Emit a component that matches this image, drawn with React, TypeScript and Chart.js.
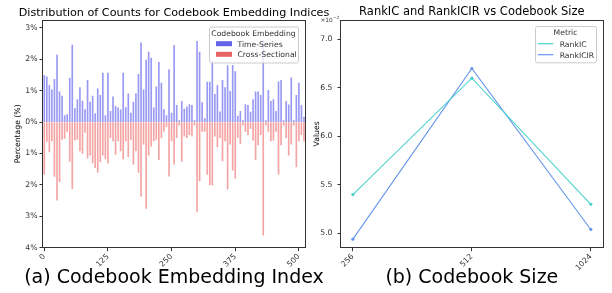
import React, { useEffect, useRef } from 'react';
import { Chart, registerables } from 'chart.js';
Chart.register(...registerables);

const FONT = '"DejaVu Sans", Verdana, sans-serif';

// ---- Chart (a): codebook usage distribution ----
const codeIndices = [
  0, 5, 10, 15, 20, 25, 30, 35, 40, 45, 50, 55, 60, 65, 70, 75, 80, 85, 90, 95,
  100, 105, 110, 115, 120, 125, 130, 135, 140, 145, 150, 155, 160, 165, 170, 175, 180, 185, 190, 195,
  200, 205, 210, 215, 220, 225, 230, 235, 240, 245, 250, 255, 260, 265, 270, 275, 280, 285, 290, 295,
  300, 305, 310, 315, 320, 325, 330, 335, 340, 345, 350, 355, 360, 365, 370, 375, 380, 385, 390, 395,
  400, 405, 410, 415, 420, 425, 430, 435, 440, 445, 450, 455, 460, 465, 470, 475, 480, 485, 490, 495,
  500, 505, 510,
];
const timeSeriesPct = [
  1.49, 1.44, 1.17, 1.03, 1.36, 2.13, 0.96, 0.83, 0.21, 0.24,
  1.40, 2.45, 0.43, 0.72, 1.10, 0.67, 0.40, 1.33, 0.64, 0.83,
  0.27, 1.06, 0.85, 1.56, 0.21, 1.56, 0.34, 0.80, 0.50, 0.45,
  0.39, 1.56, 0.46, 0.90, 0.29, 0.64, 0.90, 1.52, 2.52, 1.03,
  1.97, 2.23, 2.04, 0.45, 1.12, 1.90, 1.24, 0.40, 0.21, 1.67,
  0.29, 2.44, 0.53, 0.05, 0.66, 0.41, 0.48, 0.56, 0.53, 0.05,
  2.57, 2.23, 0.62, 0.11, 1.27, 1.27, 1.95, 0.88, 1.17, 0.33,
  1.33, 1.10, 1.80, 0.98, 1.81, 1.61, 0.19, 0.34, 0.05, 0.56,
  0.53, 0.32, 0.72, 0.96, 0.96, 0.85, 2.60, 0.05, 1.01, 0.66,
  0.72, 0.34, 1.28, 1.33, 0.05, 0.66, 0.55, 1.41, 0.05, 0.85,
  1.24, 0.53, 0.16,
];
const crossSectionalPct = [
  1.67, 0.62, 0.95, 0.60, 1.73, 2.49, 1.90, 0.55, 0.52, 0.30,
  1.25, 2.12, 0.58, 0.55, 0.92, 1.00, 0.33, 1.15, 1.05, 1.30,
  1.45, 1.60, 1.27, 1.05, 1.17, 1.30, 0.50, 0.60, 1.03, 0.60,
  0.92, 1.17, 0.60, 1.10, 0.55, 1.34, 0.92, 1.60, 2.36, 0.70,
  2.75, 1.05, 0.77, 0.60, 0.55, 1.20, 0.50, 0.30, 0.15, 1.72,
  0.60, 1.34, 0.50, 0.10, 1.25, 0.45, 0.50, 0.40, 0.45, 0.10,
  2.86, 1.87, 0.30, 0.30, 1.67, 2.00, 2.00, 0.45, 0.79, 0.50,
  1.24, 0.60, 2.14, 0.70, 1.53, 1.79, 0.50, 0.68, 0.10, 0.30,
  0.40, 0.20, 0.58, 1.20, 0.73, 0.40, 3.60, 0.10, 0.30, 0.60,
  0.58, 0.30, 1.66, 0.73, 0.10, 0.50, 1.05, 0.70, 0.10, 1.43,
  0.60, 0.40, 0.60,
];
const xTicksA = [0, 125, 250, 375, 500];
const yTicksA = [-4, -3, -2, -1, 0, 1, 2, 3];
const seriesNamesA = ['Time-Series', 'Cross-Sectional'];

// ---- Chart (b): RankIC / RankICIR ----
const codebookSizes = ['256', '512', '1024'];
const rankIC = [0.054, 0.066, 0.053];
const rankICIR = [0.0494, 0.067, 0.0504];
const yTicksB = [0.05, 0.055, 0.06, 0.065, 0.07];
const seriesNamesB = ['RankIC', 'RankICIR'];

const TS_BAR = 'rgba(90,90,235,0.62)';
const CS_BAR = 'rgba(235,90,90,0.55)';
const TS_PATCH = 'rgb(100,100,232)';
const CS_PATCH = 'rgb(232,100,100)';
const IC_COLOR = 'rgb(72,209,204)';
const ICIR_COLOR = 'rgb(100,149,237)';
const SMALL = 7.7;

function roundRect(ctx: CanvasRenderingContext2D, x: number, y: number, w: number, h: number, r: number) {
  ctx.beginPath();
  ctx.moveTo(x + r, y);
  ctx.lineTo(x + w - r, y);
  ctx.arcTo(x + w, y, x + w, y + r, r);
  ctx.lineTo(x + w, y + h - r);
  ctx.arcTo(x + w, y + h, x + w - r, y + h, r);
  ctx.lineTo(x + r, y + h);
  ctx.arcTo(x, y + h, x, y + h - r, r);
  ctx.lineTo(x, y + r);
  ctx.arcTo(x, y, x + r, y, r);
  ctx.closePath();
}

type LegendItem = { label: string; color: string; kind: 'patch' | 'line' };

function drawLegend(
  ctx: CanvasRenderingContext2D,
  box: { x: number; y: number; w: number; h: number },
  title: string,
  items: LegendItem[],
  markX: number,
  markW: number,
  textX: number,
  rowY: number[],
) {
  ctx.save();
  roundRect(ctx, box.x + 0.5, box.y + 0.5, box.w, box.h, 2);
  ctx.fillStyle = 'rgba(255,255,255,0.8)';
  ctx.fill();
  ctx.strokeStyle = '#cccccc';
  ctx.lineWidth = 1;
  ctx.stroke();
  ctx.font = `${SMALL}px ${FONT}`;
  ctx.fillStyle = '#333333';
  ctx.textAlign = 'center';
  ctx.textBaseline = 'alphabetic';
  ctx.fillText(title, box.x + box.w / 2, box.y + 9.2);
  ctx.textAlign = 'left';
  ctx.textBaseline = 'alphabetic';
  items.forEach((it, i) => {
    const cy = rowY[i];
    if (it.kind === 'patch') {
      ctx.fillStyle = it.color;
      ctx.fillRect(markX, cy - 2.5, markW, 5);
    } else {
      ctx.strokeStyle = it.color;
      ctx.lineWidth = 1.2;
      ctx.beginPath();
      ctx.moveTo(markX, cy);
      ctx.lineTo(markX + markW, cy);
      ctx.stroke();
    }
    ctx.fillStyle = '#333333';
    ctx.fillText(it.label, textX, cy + 2.8);
  });
  ctx.restore();
}

const framePlugin = {
  id: 'frame',
  afterDatasetsDraw(chart: any) {
    const { ctx, chartArea } = chart;
    ctx.save();
    ctx.strokeStyle = '#333333';
    ctx.lineWidth = 1;
    ctx.strokeRect(
      Math.round(chartArea.left) - 0.5,
      Math.round(chartArea.top) + 0.5,
      Math.round(chartArea.right - chartArea.left) + 1,
      Math.round(chartArea.bottom - chartArea.top) - 1,
    );
    ctx.restore();
  },
};

function textPlugin(id: string, text: string, size: number, baseline: number) {
  return {
    id,
    afterDraw(chart: any) {
      const { ctx, chartArea } = chart;
      ctx.save();
      ctx.font = `${size}px ${FONT}`;
      ctx.fillStyle = '#000000';
      ctx.textAlign = 'center';
      ctx.textBaseline = 'alphabetic';
      ctx.fillText(text, (chartArea.left + chartArea.right) / 2, baseline);
      ctx.restore();
    },
  };
}

const tickFont = { family: FONT, size: SMALL };

export default function App() {
  const refA = useRef<HTMLCanvasElement>(null);
  const refB = useRef<HTMLCanvasElement>(null);

  useEffect(() => {
    document.body.style.margin = '0';
    const legendA = {
      id: 'legendA',
      afterDraw(chart: any) {
        drawLegend(
          chart.ctx,
          { x: 209, y: 26.5, w: 89, h: 36 },
          'Codebook Embedding',
          [
            { label: seriesNamesA[0], color: TS_PATCH, kind: 'patch' },
            { label: seriesNamesA[1], color: CS_PATCH, kind: 'patch' },
          ],
          216,
          16,
          237.5,
          [43.7, 54.3],
        );
      },
    };
    const chartA = new Chart(refA.current!, {
      type: 'bar',
      data: {
        datasets: [
          {
            label: seriesNamesA[0],
            data: codeIndices.map((x, i) => ({ x, y: timeSeriesPct[i] })),
            backgroundColor: TS_BAR,
            barThickness: 1,
            grouped: false,
          } as any,
          {
            label: seriesNamesA[1],
            data: codeIndices.map((x, i) => ({ x, y: -crossSectionalPct[i] })),
            backgroundColor: CS_BAR,
            barThickness: 1,
            grouped: false,
          } as any,
        ],
      },
      options: {
        animation: false,
        responsive: false,
        devicePixelRatio: 1,
        layout: { padding: { left: 0, right: 43, top: 20, bottom: 0 } },
        plugins: {
          legend: { display: false },
          tooltip: { enabled: false },
          title: { display: false },
        },
        scales: {
          x: {
            type: 'linear',
            offset: false,
            min: -2.5,
            max: 512,
            afterBuildTicks: (axis: any) => {
              axis.ticks = xTicksA.map((v) => ({ value: v }));
            },
            afterFit: (axis: any) => {
              axis.height = 45.3;
            },
            ticks: {
              font: tickFont,
              color: '#333333',
              autoSkip: false,
              minRotation: 45,
              maxRotation: 45,
              padding: 1,
              callback: (v: any) => String(v),
            },
            grid: { display: true, offset: false, drawOnChartArea: false, drawTicks: true, tickLength: 3.5, color: '#333333' },
            border: { display: false },
            title: { display: false },
          },
          y: {
            type: 'linear',
            min: -4,
            max: 3.25,
            afterBuildTicks: (axis: any) => {
              axis.ticks = yTicksA.map((v) => ({ value: v }));
            },
            afterFit: (axis: any) => {
              axis.width = 43;
            },
            ticks: {
              font: tickFont,
              color: '#333333',
              padding: 2,
              callback: (v: any) => `${Math.abs(Number(v))}%`,
            },
            grid: { display: true, drawOnChartArea: false, drawTicks: true, tickLength: 3.5, color: '#333333' },
            border: { display: false },
            title: {
              display: true,
              text: 'Percentage (%)',
              color: '#000000',
              font: { family: FONT, size: SMALL },
              padding: { top: 13.8, bottom: 0 },
            },
          },
        },
      } as any,
      plugins: [
        framePlugin,
        legendA,
        textPlugin('titleA', 'Distribution of Counts for Codebook Embedding Indices', 11.2, 15.7),
        textPlugin('capA', '(a) Codebook Embedding Index', 19, 282.7),
      ],
    });

    const legendB = {
      id: 'legendB',
      afterDraw(chart: any) {
        const ctx = chart.ctx as CanvasRenderingContext2D;
        drawLegend(
          ctx,
          { x: 535, y: 26, w: 61, h: 36.3 },
          'Metric',
          [
            { label: seriesNamesB[0], color: IC_COLOR, kind: 'line' },
            { label: seriesNamesB[1], color: ICIR_COLOR, kind: 'line' },
          ],
          537.7,
          15.6,
          559.7,
          [43.7, 54.7],
        );
        const { chartArea } = chart;
        ctx.save();
        ctx.fillStyle = '#333333';
        ctx.textBaseline = 'alphabetic';
        ctx.textAlign = 'left';
        ctx.font = `5.8px ${FONT}`;
        const x0 = chartArea.left - 20.5;
        ctx.fillText('\u00d710', x0, chartArea.top + 2.3);
        const w = ctx.measureText('\u00d710').width;
        ctx.font = `4.3px ${FONT}`;
        ctx.fillText('\u22122', x0 + w + 0.3, chartArea.top - 0.6);
        ctx.restore();
      },
    };

    const chartB = new Chart(refB.current!, {
      type: 'line',
      data: {
        datasets: [
          {
            label: seriesNamesB[0],
            data: rankIC.map((y, i) => ({ x: i, y })),
            borderColor: IC_COLOR,
            backgroundColor: IC_COLOR,
            borderWidth: 1.1,
            pointRadius: 1.6,
            pointBorderWidth: 0,
            tension: 0,
          },
          {
            label: seriesNamesB[1],
            data: rankICIR.map((y, i) => ({ x: i, y })),
            borderColor: ICIR_COLOR,
            backgroundColor: ICIR_COLOR,
            borderWidth: 1.1,
            pointRadius: 1.6,
            pointBorderWidth: 0,
            tension: 0,
          },
        ],
      },
      options: {
        animation: false,
        responsive: false,
        devicePixelRatio: 1,
        layout: { padding: { left: 300, right: 9.3, top: 0, bottom: 0 } },
        plugins: {
          legend: { display: false },
          tooltip: { enabled: false },
          title: {
            display: true,
            text: 'RankIC and RankICIR vs Codebook Size',
            fullSize: false,
            color: '#000000',
            font: { family: FONT, size: 11.5, weight: 'normal' },
            padding: { top: 4.8, bottom: 1.4 },
          },
        },
        scales: {
          x: {
            type: 'linear',
            min: -0.1,
            max: 2.1,
            afterBuildTicks: (axis: any) => {
              axis.ticks = codebookSizes.map((_, i) => ({ value: i }));
            },
            afterFit: (axis: any) => {
              axis.height = 45.3;
            },
            ticks: {
              font: tickFont,
              color: '#333333',
              autoSkip: false,
              minRotation: 45,
              maxRotation: 45,
              padding: 1,
              callback: (v: any) => codebookSizes[Math.round(Number(v))] ?? '',
            },
            grid: { display: true, drawOnChartArea: false, drawTicks: true, tickLength: 3.5, color: '#333333' },
            border: { display: false },
            title: { display: false },
          },
          y: {
            type: 'linear',
            min: 0.04852,
            max: 0.072,
            afterBuildTicks: (axis: any) => {
              axis.ticks = yTicksB.map((v) => ({ value: v }));
            },
            afterFit: (axis: any) => {
              axis.width = 41;
            },
            ticks: {
              font: tickFont,
              color: '#333333',
              padding: 5,
              callback: (v: any) => (Number(v) * 100).toFixed(1),
            },
            grid: { display: true, drawOnChartArea: false, drawTicks: true, tickLength: 3.5, color: '#333333' },
            border: { display: false },
            title: {
              display: true,
              text: 'Values',
              color: '#000000',
              font: { family: FONT, size: SMALL },
              padding: { top: 12.4, bottom: 0 },
            },
          },
        },
      } as any,
      plugins: [framePlugin, legendB, textPlugin('capB', '(b) Codebook Size', 19, 282.7)],
    });

    return () => {
      chartA.destroy();
      chartB.destroy();
    };
  }, []);

  return (
    <div style={{ position: 'fixed', left: 0, top: 0, width: 612, height: 293, background: '#ffffff', overflow: 'hidden' }}>
      <canvas ref={refA} width={348} height={293} style={{ position: 'absolute', left: 0, top: 0, width: 348, height: 293 }} />
      <canvas ref={refB} width={612} height={293} style={{ position: 'absolute', left: 0, top: 0, width: 612, height: 293 }} />
    </div>
  );
}
